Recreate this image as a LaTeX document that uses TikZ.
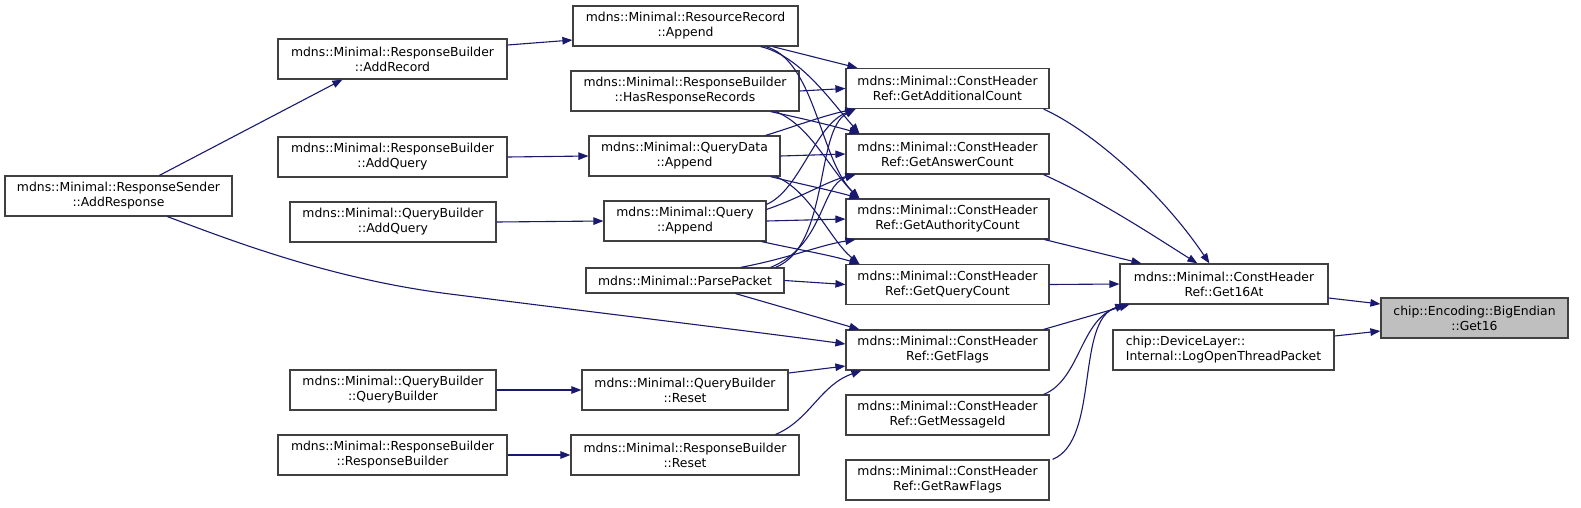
\documentclass[tikz,border=0pt]{standalone}
\usepackage{fontspec}
\setmainfont{DejaVu Sans}
\usetikzlibrary{arrows.meta,calc}
\definecolor{edgecol}{HTML}{191970}
\definecolor{boxcol}{HTML}{404040}
\definecolor{hilite}{HTML}{BFBFBF}
\begin{document}
\begin{tikzpicture}[x=1pt,y=-1pt,
  fn/.style={draw=boxcol, line width=1.2pt, fill=white, inner sep=0pt, minimum height=40pt, align=center, font=\fontsize{12.4}{15}\selectfont},
  edge/.style={draw=edgecol, line width=1.1pt, -{Triangle[length=10pt,width=7.5pt]}}]
\useasboundingbox[fill=white] (0,0) rectangle (1581,507);

% column 1
\node[fn, minimum width=227pt] (addresp) at (118.5,196) {mdns::Minimal::ResponseSender\\::AddResponse};
% column 2
\node[fn, minimum width=229pt] (addrec) at (392.5,59) {mdns::Minimal::ResponseBuilder\\::AddRecord};
\node[fn, minimum width=229pt] (rbaddq) at (392.5,157) {mdns::Minimal::ResponseBuilder\\::AddQuery};
\node[fn, minimum width=206pt] (qbaddq) at (393,222) {mdns::Minimal::QueryBuilder\\::AddQuery};
\node[fn, minimum width=206pt] (qbqb) at (393,390) {mdns::Minimal::QueryBuilder\\::QueryBuilder};
\node[fn, minimum width=229pt] (rbrb) at (392.5,455) {mdns::Minimal::ResponseBuilder\\::ResponseBuilder};
% column 3
\node[fn, minimum width=225pt] (rr) at (685.5,26) {mdns::Minimal::ResourceRecord\\::Append};
\node[fn, minimum width=228pt] (hasrr) at (685,91) {mdns::Minimal::ResponseBuilder\\::HasResponseRecords};
\node[fn, minimum width=191pt] (qd) at (684.5,156) {mdns::Minimal::QueryData\\::Append};
\node[fn, minimum width=162pt] (q) at (685,221) {mdns::Minimal::Query\\::Append};
\node[fn, minimum width=198pt, minimum height=25pt] (pp) at (685,280.5) {mdns::Minimal::ParsePacket};
\node[fn, minimum width=206pt] (qbreset) at (685,390) {mdns::Minimal::QueryBuilder\\::Reset};
\node[fn, minimum width=228pt] (rbreset) at (685,455) {mdns::Minimal::ResponseBuilder\\::Reset};
% column 4
\node[fn, minimum width=203pt] (gadd) at (947.5,88.5) {mdns::Minimal::ConstHeader\\Ref::GetAdditionalCount};
\node[fn, minimum width=203pt] (gans) at (947.5,154) {mdns::Minimal::ConstHeader\\Ref::GetAnswerCount};
\node[fn, minimum width=203pt] (gauth) at (947.5,219) {mdns::Minimal::ConstHeader\\Ref::GetAuthorityCount};
\node[fn, minimum width=203pt] (gqc) at (947.5,284.5) {mdns::Minimal::ConstHeader\\Ref::GetQueryCount};
\node[fn, minimum width=203pt] (gflags) at (947.5,350) {mdns::Minimal::ConstHeader\\Ref::GetFlags};
\node[fn, minimum width=203pt] (gmsg) at (947.5,415) {mdns::Minimal::ConstHeader\\Ref::GetMessageId};
\node[fn, minimum width=203pt] (graw) at (947.5,480) {mdns::Minimal::ConstHeader\\Ref::GetRawFlags};
% column 5
\node[fn, minimum width=208pt] (get16at) at (1224,284) {mdns::Minimal::ConstHeader\\Ref::Get16At};
\node[fn, minimum width=221pt, align=left] (logot) at (1223.5,350) {chip::DeviceLayer::\\Internal::LogOpenThreadPacket};
% column 6
\node[fn, minimum width=187pt, fill=hilite] (get16) at (1474.5,318) {chip::Encoding::BigEndian\\::Get16};

% edges column 1 -> 2
\draw[edge] ($(addresp.north west)+(155,0)$) -- ($(addrec.south west)+(65,0)$);
\draw[edge] ($(addresp.south west)+(163,0)$) .. controls (230,240) and (330,279) .. (450,294) .. controls (600,313) and (750,331) .. ($(gflags.west)+(0,-6)$);
% column 2 -> 3
\draw[edge] ($(addrec.east)+(0,-14)$) -- ($(rr.west)+(0,14)$);
\draw[edge] (rbaddq.east) -- (qd.west);
\draw[edge] (qbaddq.east) -- (q.west);
\draw[edge] (qbqb.east) -- (qbreset.west);
\draw[edge] (rbrb.east) -- (rbreset.west);
% column 3 -> 4
\draw[edge] ($(rr.south east)+(-26,0)$) -- ($(gadd.north west)+(12,0)$);
\draw[edge] ($(rr.south east)+(-38,0)$) .. controls (800,56) and (830,100) .. ($(gans.north west)+(14,0)$);
\draw[edge] ($(rr.south east)+(-33,0)$) .. controls (815,60) and (820,160) .. ($(gauth.north west)+(14,0)$);
\draw[edge] (hasrr.east) -- (gadd.west);
\draw[edge] ($(hasrr.south east)+(-29,0)$) .. controls (800,118) and (830,125) .. ($(gans.north west)+(14,0)$);
\draw[edge] ($(hasrr.south east)+(-24,0)$) .. controls (810,125) and (830,170) .. ($(gauth.north west)+(14,0)$);
\draw[edge] ($(qd.north east)+(-15,0)$) .. controls (790,128) and (825,115) .. ($(gadd.south west)+(10,0)$);
\draw[edge] (qd.east) -- (gans.west);
\draw[edge] ($(qd.south east)+(-10,0)$) .. controls (800,184) and (830,190) .. ($(gauth.north west)+(14,0)$);
\draw[edge] ($(qd.south east)+(-5,0)$) .. controls (810,190) and (830,240) .. ($(gqc.north west)+(14,0)$);
\draw[edge] ($(q.north east)+(0,4)$) .. controls (800,190) and (815,125) .. ($(gadd.south west)+(10,0)$);
\draw[edge] ($(q.north east)+(0,9)$) .. controls (800,198) and (830,180) .. ($(gans.south west)+(10,0)$);
\draw[edge] (q.east) -- (gauth.west);
\draw[edge] ($(q.south east)+(-5,0)$) .. controls (800,250) and (830,255) .. ($(gqc.north west)+(14,0)$);
\draw[edge] ($(pp.north east)+(-9,0)$) .. controls (830,245) and (815,130) .. ($(gadd.south west)+(10,0)$);
\draw[edge] ($(pp.north east)+(-14,0)$) .. controls (825,245) and (820,185) .. ($(gans.south west)+(10,0)$);
\draw[edge] ($(pp.north east)+(-44,0)$) .. controls (790,258) and (820,245) .. ($(gauth.south west)+(10,0)$);
\draw[edge] (pp.east) -- (gqc.west);
\draw[edge] ($(pp.south east)+(-49,0)$) -- ($(gflags.north west)+(14,0)$);
\draw[edge] ($(qbreset.east)+(0,-17)$) -- ($(gflags.west)+(0,16)$);
\draw[edge] ($(rbreset.north east)+(-24,0)$) .. controls (810,420) and (820,385) .. ($(gflags.south west)+(16,0)$);
% column 4 -> 5
\draw[edge] ($(gadd.south east)+(-6,0)$) .. controls (1090,130) and (1160,190) .. ($(get16at.north west)+(90,0)$);
\draw[edge] ($(gans.south east)+(-6,0)$) .. controls (1100,200) and (1160,240) .. ($(get16at.north west)+(78,0)$);
\draw[edge] ($(gauth.south east)+(-5,0)$) -- ($(get16at.north west)+(22,0)$);
\draw[edge] (gqc.east) -- (get16at.west);
\draw[edge] ($(gflags.north east)+(-6,0)$) -- ($(get16at.south west)+(10,0)$);
\draw[edge] ($(gmsg.north east)+(-6,0)$) .. controls (1080,380) and (1080,320) .. ($(get16at.south west)+(6,0)$);
\draw[edge] ($(graw.north east)+(3,0)$) .. controls (1100,440) and (1075,320) .. ($(get16at.south west)+(6,0)$);
% column 5 -> 6
\draw[edge] ($(get16at.east)+(0,14)$) -- ($(get16.west)+(0,-14)$);
\draw[edge] ($(logot.east)+(0,-14)$) -- ($(get16.west)+(0,13)$);
\end{tikzpicture}
\end{document}
